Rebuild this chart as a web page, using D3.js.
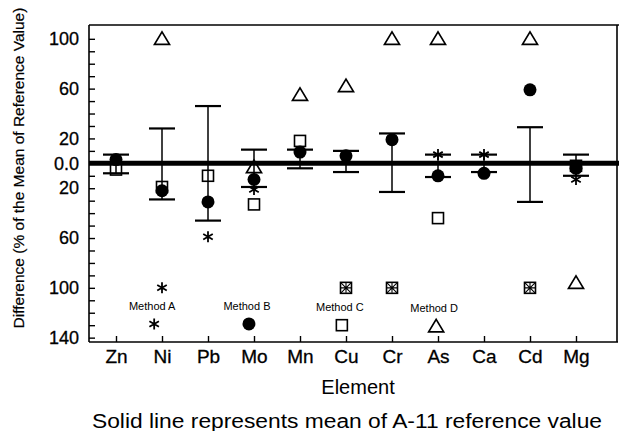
<!DOCTYPE html>
<html>
<head>
<meta charset="utf-8">
<script src="https://cdn.jsdelivr.net/npm/d3@7"></script>
<style>
  html, body { margin: 0; padding: 0; background: #fff; }
  svg { display: block; font-family: "Liberation Sans", Arial, Helvetica, sans-serif; }
</style>
</head>
<body>
<svg id="chart" width="619" height="431"></svg>
<script>
// ---- data ----
const elements = ["Zn", "Ni", "Pb", "Mo", "Mn", "Cu", "Cr", "As", "Ca", "Cd", "Mg"];
// reference range (error bars) around the A-11 mean, in % difference
const refUpper = [7, 28, 46, 11, 11, 10, 24, 7, 7, 29, 7];
const refLower = [-8, -29, -46, -19, -4, -7, -23, -11, -7, -31, -10];
// Method A (asterisk)
const methodA = [null, -100, -59, -21, null, null, null, 7, 7, null, -13];
// Method B (filled circle)
const methodB = [3, -22, -31, -13, 9, 6, 19, -10, -8, 59, -4];
// Method C (open square)
const methodC = [-5, -19, -10, -33, 18, null, null, -44, null, null, -2];
// Method D (open triangle)
const methodD = [null, 100, null, -3, 55, 62, 100, 100, null, 100, -96];
// off-scale (boxed) markers
const offScale = [null, null, null, null, null, -100, -100, null, null, -100, null];

const yTickValues = [100, 60, 20, 0, -20, -60, -100, -140];
const yTickLabels = ["100", "60", "20", "0.0", "20", "60", "100", "140"];

const legendLabels = ["Method A", "Method B", "Method C", "Method D"];
const legendSymbols = ["asterisk", "circle", "square", "triangle"];
const legendXIndex = [0.83, 2.89, 4.91, 6.96];
const legendYValue = [-129, -129, -130, -131];

const yTitle = "Difference (% of the Mean of Reference Value)";
const xTitle = "Element";
const caption = "Solid line represents mean of A-11 reference value";

// ---- layout ----
const svg = d3.select("#chart");
const L = 89, R = 617, T = 25, B = 342;

const x = d3.scaleLinear().domain([0, elements.length - 1]).range([116, 576]);
const y = d3.scaleLinear().domain([-143.5, 111.1]).range([B, T]);

// frame
const frame = svg.append("g").attr("stroke", "#000").attr("stroke-width", 1.6).attr("fill", "none");
frame.append("line").attr("x1", L).attr("x2", 619).attr("y1", T).attr("y2", T);
frame.append("line").attr("x1", L).attr("x2", R + 1).attr("y1", B).attr("y2", B);
frame.append("line").attr("x1", L).attr("x2", L).attr("y1", T).attr("y2", B);
frame.append("line").attr("x1", R).attr("x2", R).attr("y1", T).attr("y2", B);

// y axis
const minorTicks = d3.range(-140, 101, 10);
const labelMap = new Map(yTickValues.map((v, i) => [v, yTickLabels[i]]));
const yAxis = d3.axisLeft(y).tickValues(minorTicks)
  .tickSize(-6).tickSizeOuter(0).tickPadding(10)
  .tickFormat(d => labelMap.has(d) ? labelMap.get(d) : "");
const gy = svg.append("g").attr("transform", `translate(${L},0)`).call(yAxis);
gy.select(".domain").remove();
gy.selectAll(".tick line").attr("stroke", "#000").attr("stroke-width", 1.4);
gy.selectAll(".tick text").attr("font-size", 18).attr("fill", "#000")
  .attr("stroke", "#000").attr("stroke-width", 0.3)
  .attr("font-family", "Liberation Sans, Arial, sans-serif");

// x axis
const xAxis = d3.axisBottom(x).tickValues(d3.range(elements.length))
  .tickSize(-6).tickSizeOuter(0).tickPadding(8)
  .tickFormat(i => elements[i]);
const gx = svg.append("g").attr("transform", `translate(0,${B})`).call(xAxis);
gx.select(".domain").remove();
gx.selectAll(".tick line").attr("stroke", "#000").attr("stroke-width", 1.4);
gx.selectAll(".tick text").attr("font-size", 19).attr("fill", "#000")
  .attr("stroke", "#000").attr("stroke-width", 0.3)
  .attr("font-family", "Liberation Sans, Arial, sans-serif");

// error bars
const idx = d3.range(elements.length);
const eb = svg.append("g").attr("stroke", "#000");
eb.selectAll("line.v").data(idx).join("line").attr("class", "v")
  .attr("x1", i => x(i)).attr("x2", i => x(i))
  .attr("y1", i => y(refUpper[i])).attr("y2", i => y(refLower[i]))
  .attr("stroke-width", 1.5);
eb.selectAll("line.cu").data(idx).join("line").attr("class", "cu")
  .attr("x1", i => x(i) - 13).attr("x2", i => x(i) + 13)
  .attr("y1", i => y(refUpper[i])).attr("y2", i => y(refUpper[i]))
  .attr("stroke-width", 2.2);
eb.selectAll("line.cl").data(idx).join("line").attr("class", "cl")
  .attr("x1", i => x(i) - 13).attr("x2", i => x(i) + 13)
  .attr("y1", i => y(refLower[i])).attr("y2", i => y(refLower[i]))
  .attr("stroke-width", 2.2);

// zero (mean) line
svg.append("line").attr("x1", L).attr("x2", 619)
  .attr("y1", y(0)).attr("y2", y(0))
  .attr("stroke", "#000").attr("stroke-width", 5);

// symbol drawing helpers
function drawSymbol(g, type, cx, cy) {
  if (type === "circle") {
    g.append("circle").attr("cx", cx).attr("cy", cy).attr("r", 6.5).attr("fill", "#000");
  } else if (type === "square") {
    g.append("rect").attr("x", cx - 5.5).attr("y", cy - 5.5).attr("width", 11).attr("height", 11)
      .attr("fill", "none").attr("stroke", "#000").attr("stroke-width", 1.6);
  } else if (type === "triangle") {
    g.append("path").attr("d", `M${cx},${cy - 7}L${cx + 7.5},${cy + 5.5}L${cx - 7.5},${cy + 5.5}Z`)
      .attr("fill", "none").attr("stroke", "#000").attr("stroke-width", 1.7).attr("stroke-linejoin", "miter");
  } else if (type === "asterisk") {
    const r = 5.5;
    const a = Math.PI / 3;
    let d = "";
    for (let k = 0; k < 3; k++) {
      const ang = Math.PI / 2 + k * a;
      const dx = r * Math.cos(ang), dy = r * Math.sin(ang);
      d += `M${cx - dx},${cy - dy}L${cx + dx},${cy + dy}`;
    }
    g.append("path").attr("d", d).attr("stroke", "#000").attr("stroke-width", 1.8).attr("fill", "none");
  } else if (type === "boxed") {
    g.append("rect").attr("x", cx - 5.5).attr("y", cy - 5.5).attr("width", 11).attr("height", 11)
      .attr("fill", "none").attr("stroke", "#000").attr("stroke-width", 1.6);
    g.append("path").attr("d", `M${cx - 5},${cy - 5}L${cx + 5},${cy + 5}M${cx + 5},${cy - 5}L${cx - 5},${cy + 5}M${cx},${cy - 5}V${cy + 5}M${cx - 5},${cy}H${cx + 5}`)
      .attr("stroke", "#000").attr("stroke-width", 1.1).attr("fill", "none");
  }
}

const marks = svg.append("g");
function drawSeries(values, type) {
  values.forEach((v, i) => {
    if (v === null) return;
    drawSymbol(marks, type, x(i), y(v));
  });
}
drawSeries(methodC, "square");
drawSeries(methodB, "circle");
drawSeries(methodD, "triangle");
drawSeries(methodA, "asterisk");
drawSeries(offScale, "boxed");

// in-plot legend
const lg = svg.append("g");
legendLabels.forEach((lab, k) => {
  const cx = x(legendXIndex[k]), cy = y(legendYValue[k]);
  drawSymbol(lg, legendSymbols[k], cx, cy);
  lg.append("text").attr("x", cx - 2).attr("y", cy - 14)
    .attr("text-anchor", "middle").attr("font-size", 11).attr("fill", "#000")
    .text(lab);
});

// titles
svg.append("text")
  .attr("transform", `translate(24,168) rotate(-90)`)
  .attr("text-anchor", "middle").attr("font-size", 15.5).attr("fill", "#000")
  .attr("stroke", "#000").attr("stroke-width", 0.2)
  .text(yTitle);

svg.append("text").attr("x", 358).attr("y", 394)
  .attr("text-anchor", "middle").attr("font-size", 20).attr("fill", "#000")
  .text(xTitle);

svg.append("text").attr("x", 347).attr("y", 428)
  .attr("text-anchor", "middle").attr("font-size", 20).attr("fill", "#000")
  .attr("textLength", 510).attr("lengthAdjust", "spacingAndGlyphs")
  .text(caption);
</script>
</body>
</html>
